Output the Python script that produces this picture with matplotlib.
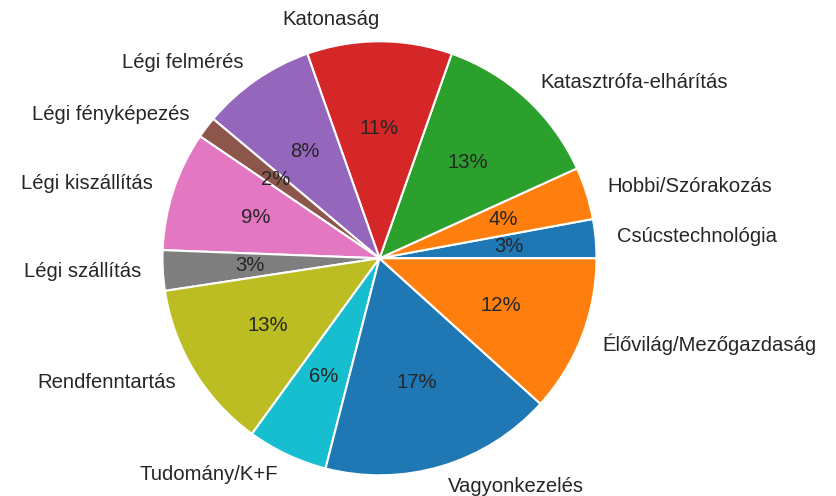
import matplotlib
matplotlib.use("Agg")
import matplotlib.pyplot as plt

labels = ["Csúcstechnológia", "Hobbi/Szórakozás", "Katasztrófa-elhárítás", "Katonaság",
          "Légi felmérés", "Légi fényképezés", "Légi kiszállítás", "Légi szállítás",
          "Rendfenntartás", "Tudomány/K+F", "Vagyonkezelés", "Élővilág/Mezőgazdaság"]
values = [2.9, 3.9, 12.8, 10.8, 8.5, 1.6, 8.9, 3.0, 12.6, 6.0, 17.3, 11.7]

plt.rcParams['font.family'] = ['Liberation Sans', 'DejaVu Sans']
plt.rcParams['text.color'] = '.15'

W, H = 836, 496
cx, cy, r = 379.5, 258.3, 217.0

fig = plt.figure(figsize=(W / 100, H / 100), dpi=100)
ax = fig.add_axes([0, 0, 1, 1])
colors = plt.get_cmap('tab10').colors
ax.pie(values, labels=labels, autopct='%.0f%%', startangle=0,
       colors=[colors[i % 10] for i in range(len(values))],
       wedgeprops=dict(edgecolor='white', linewidth=1.5),
       textprops=dict(color='.15', fontsize=14.6))
ax.set_aspect('auto')
ax.set_xlim(-cx / r, (W - cx) / r)
ax.set_ylim(-(H - cy) / r, cy / r)
ax.axis('off')
fig.savefig('out.png', dpi=100, facecolor='white')
